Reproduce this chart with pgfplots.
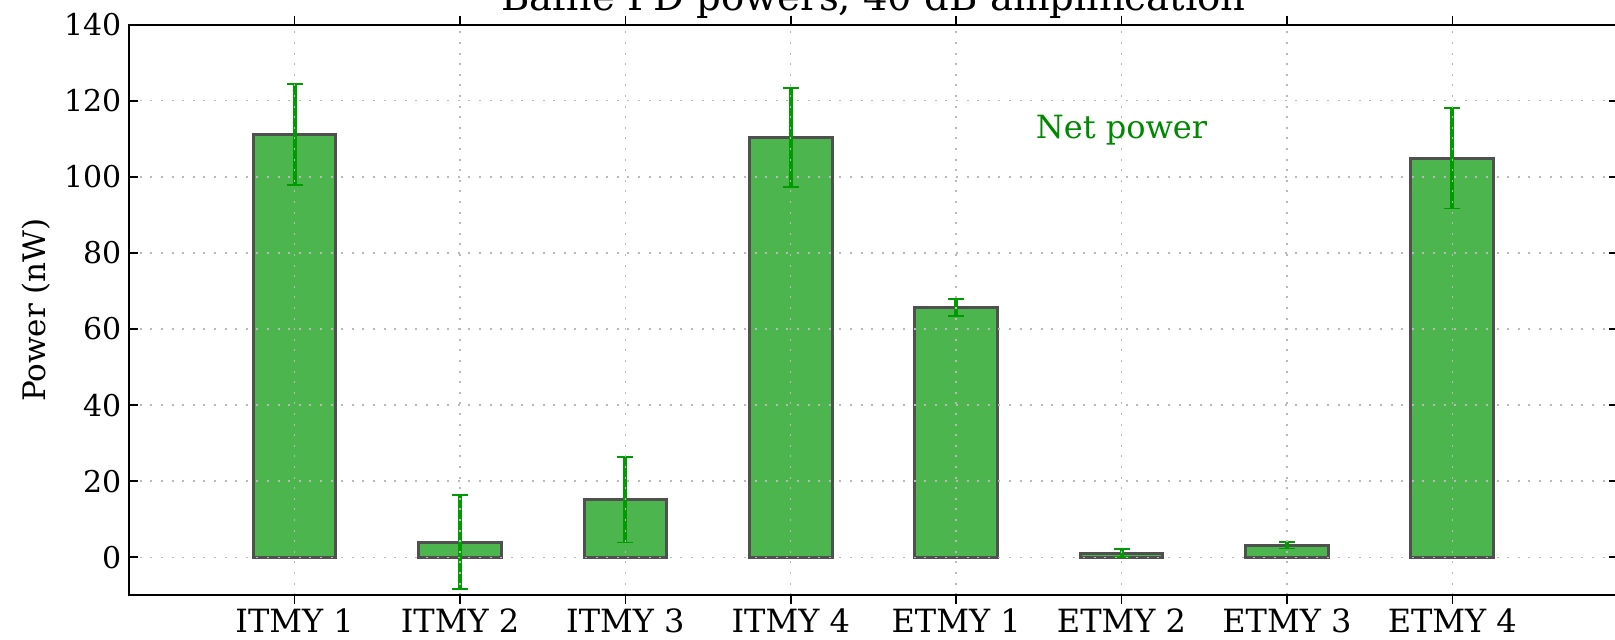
\documentclass[border=0pt]{standalone}
\usepackage{fontspec}
\setmainfont{DejaVu Serif}
\usepackage{pgfplots}
\pgfplotsset{compat=1.18}
\definecolor{barfill}{RGB}{77,181,77}
\definecolor{baredge}{RGB}{80,80,80}
\definecolor{errgreen}{RGB}{0,155,0}
\definecolor{txtgreen}{RGB}{0,136,0}
\pgfplotstableread{
x y e
0 111.1 13.3
1 4.0 12.3
2 15.1 11.2
3 110.3 13.0
4 65.7 2.2
5 1.1 1.1
6 3.2 0.9
7 104.9 13.2
}\datatable
\begin{document}
\begin{tikzpicture}
\begin{axis}[
  scale only axis,
  width=744.25pt, height=285.3pt,
  xmin=-1, xmax=8, ymin=-10, ymax=140,
  xtick={0,...,7},
  xticklabels={ITMY 1,ITMY 2,ITMY 3,ITMY 4,ETMY 1,ETMY 2,ETMY 3,ETMY 4},
  ytick={0,20,...,140},
  /pgf/number format/assume math mode=true,
  tick label style={font=\fontsize{15}{18}\selectfont},
  xticklabel style={font=\fontsize{16}{19}\selectfont, inner sep=0pt, anchor=north, yshift=-1.8pt},
  yticklabel style={inner sep=0pt, anchor=east, xshift=-3.75pt},
  tick pos=both,
  tick align=inside,
  major tick length=4.5pt,
  every tick/.style={black, line width=0.8pt},
  axis line style={black, line width=1pt},
  grid=major,
  major grid style={gray!55, line width=0.7pt, dash pattern=on 1pt off 4.3pt},
  axis on top,
  ylabel={Power (nW)},
  ylabel style={font=\fontsize{15.5}{18}\selectfont, at={(rel axis cs:0,0.5)}, anchor=center, yshift=46.5pt},
  title={Baffle PD powers, 40 dB amplification},
  title style={font=\fontsize{19.3}{22}\selectfont, at={(rel axis cs:0.5,1)}, anchor=base, yshift=1.3pt, inner sep=0pt},
  ybar, bar width=0.5, bar shift=0pt,
]
\addplot[fill=barfill, draw=baredge, line width=1.5pt,
  error bars/.cd, y dir=both, y explicit,
  error bar style={color=errgreen, line width=2pt},
  error mark options={rotate=90, mark size=4pt, line width=0.9pt, color=errgreen}]
  table[x=x, y=y, y error=e] {\datatable};
\node[anchor=base, text=txtgreen, font=\fontsize{16}{19}\selectfont, inner sep=0pt] at (axis cs:5,110.0) {Net power};
\coordinate (bl) at (rel axis cs:0,0);
\end{axis}
\pgfresetboundingbox
\path[use as bounding box] (bl) ++(-64.6pt,-22.35pt) rectangle ++(807.5pt,320pt);
\end{tikzpicture}
\end{document}
